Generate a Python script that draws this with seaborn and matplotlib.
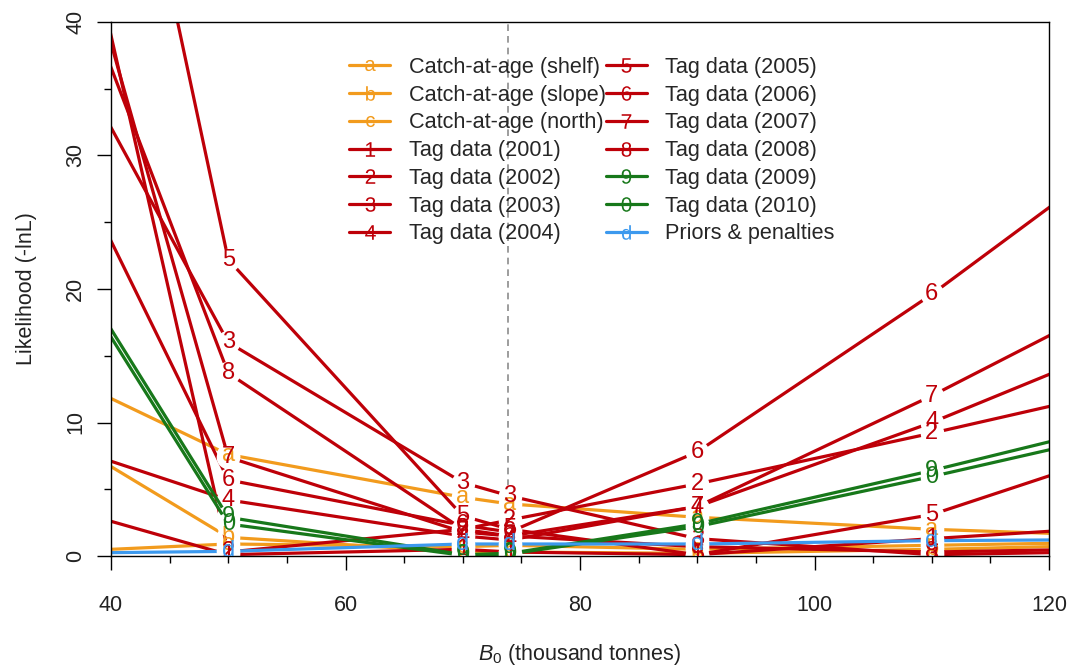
import matplotlib
matplotlib.use("Agg")
import matplotlib.pyplot as plt
from matplotlib.lines import Line2D
from matplotlib.ticker import MultipleLocator
import pandas as pd
import seaborn as sns

# B0 grid of the likelihood profile (thousand tonnes); 30 and 130 fall outside the view
b0 = [30, 50, 70, 74, 90, 110, 130]
b0_mpd = 73.9

# negative log-likelihood by component
shelf = [16.0, 7.6, 4.4, 3.9, 2.9, 2.0, 1.4]
slope = [12.0, 1.4, 0.3, 0.3, 0.2, 0.5, 0.9]
north = [0.1, 0.9, 0.7, 0.8, 0.5, 0.8, 1.1]
tag2001 = [5.1, 0.1, 0.5, 0.3, 0.1, 1.3, 2.4]
tag2002 = [77.7, 0.3, 2.0, 2.7, 5.4, 9.2, 13.2]
tag2003 = [48.2, 16.0, 5.5, 4.5, 1.3, 0.1, 0.4]
tag2004 = [10.0, 4.2, 1.5, 1.2, 3.7, 10.0, 17.2]
tag2005 = [104.6, 22.2, 3.0, 2.0, 0.1, 3.1, 8.9]
tag2006 = [41.5, 5.7, 2.3, 1.8, 7.8, 19.6, 32.6]
tag2007 = [69.4, 7.4, 1.8, 1.5, 3.7, 12.0, 21.0]
tag2008 = [59.5, 13.7, 2.0, 1.5, 0.7, 0.3, 0.6]
tag2009 = [31.1, 2.9, 0.1, 0.2, 2.4, 6.4, 10.7]
tag2010 = [30.4, 2.4, 0.05, 0.15, 2.2, 5.95, 9.95]
priors = [0.15, 0.35, 0.9, 0.9, 0.9, 1.15, 1.25]

components = ["Catch-at-age (shelf)", "Catch-at-age (slope)", "Catch-at-age (north)",
              "Tag data (2001)", "Tag data (2002)", "Tag data (2003)", "Tag data (2004)",
              "Tag data (2005)", "Tag data (2006)", "Tag data (2007)", "Tag data (2008)",
              "Tag data (2009)", "Tag data (2010)", "Priors & penalties"]
symbols = ["a", "b", "c", "1", "2", "3", "4", "5", "6", "7", "8", "9", "0", "d"]
series = [shelf, slope, north, tag2001, tag2002, tag2003, tag2004,
          tag2005, tag2006, tag2007, tag2008, tag2009, tag2010, priors]

orange, red, green, blue = "#F29B1D", "#BE0008", "#17781A", "#3C99EE"
colors = [orange] * 3 + [red] * 8 + [green] * 2 + [blue]

xlim = (40, 120)

df = pd.DataFrame({
    "B0": b0 * len(series),
    "nll": [v for s in series for v in s],
    "component": [c for c in components for _ in b0],
})

sns.set_theme(style="ticks")
plt.rcParams["font.family"] = ["Liberation Sans", "DejaVu Sans"]
plt.rcParams["mathtext.fontset"] = "custom"
plt.rcParams["mathtext.rm"] = "Liberation Sans"
plt.rcParams["mathtext.it"] = "Liberation Sans:italic"

fig = plt.figure(figsize=(10.75, 6.66), dpi=100)
ax = fig.add_axes([111 / 1075, 110 / 666, 938 / 1075, 534 / 666])

ax.axvline(b0_mpd, color="#8c8c8c", lw=1.2, ls=(0, (4, 3)), zorder=1)

# white markers cut the line around each point, like R's type = "b"
sns.lineplot(data=df, x="B0", y="nll", hue="component", hue_order=components,
             palette=dict(zip(components, colors)), estimator=None, sort=False,
             legend=False, ax=ax, lw=2.3, marker="o", markersize=17,
             markerfacecolor="white", markeredgecolor="white", markeredgewidth=0)

for sym, vals, col in zip(symbols, series, colors):
    for x, y in zip(b0, vals):
        if xlim[0] < x < xlim[1]:
            ax.text(x, y, sym, color=col, fontsize=17, ha="center", va="center",
                    clip_on=True, zorder=3)

ax.set_xlim(*xlim)
ax.set_ylim(0, 40)
ax.xaxis.set_major_locator(MultipleLocator(20))
ax.xaxis.set_minor_locator(MultipleLocator(5))
ax.yaxis.set_major_locator(MultipleLocator(10))
ax.yaxis.set_minor_locator(MultipleLocator(5))
ax.tick_params(which="major", length=10, width=1, color="black",
               labelsize=15.5, labelcolor="#222222")
ax.tick_params(which="minor", length=5, width=1, color="black")
ax.tick_params(axis="x", which="major", pad=18)
ax.tick_params(axis="y", which="major", pad=8, labelrotation=90)
plt.setp(ax.get_yticklabels(), va="center")
for sp in ax.spines.values():
    sp.set_color("black")
    sp.set_linewidth(1)

ax.set_xlabel(r"$\mathit{B}_0$ (thousand tonnes)", fontsize=15.5, color="#222222", labelpad=18.5)
ax.set_ylabel("Likelihood (-lnL)", fontsize=15.5, color="#222222", labelpad=20)

small = {"a": 8, "c": 8}
handles = [Line2D([], [], color=c, lw=2.3, marker=f"$\\mathrm{{{s}}}$",
                  markersize=small.get(s, 10.5), markeredgewidth=0)
           for s, c in zip(symbols, colors)]
ax.legend(handles, components, ncol=2, loc="upper left",
          bbox_to_anchor=(349 / 1075, 1 - 57 / 666), bbox_transform=fig.transFigure,
          frameon=False, fontsize=15.6, handlelength=1.9, handletextpad=0.85,
          columnspacing=0.0, labelspacing=0.31, borderpad=0, borderaxespad=0)

fig.savefig("out.png", dpi=100)
